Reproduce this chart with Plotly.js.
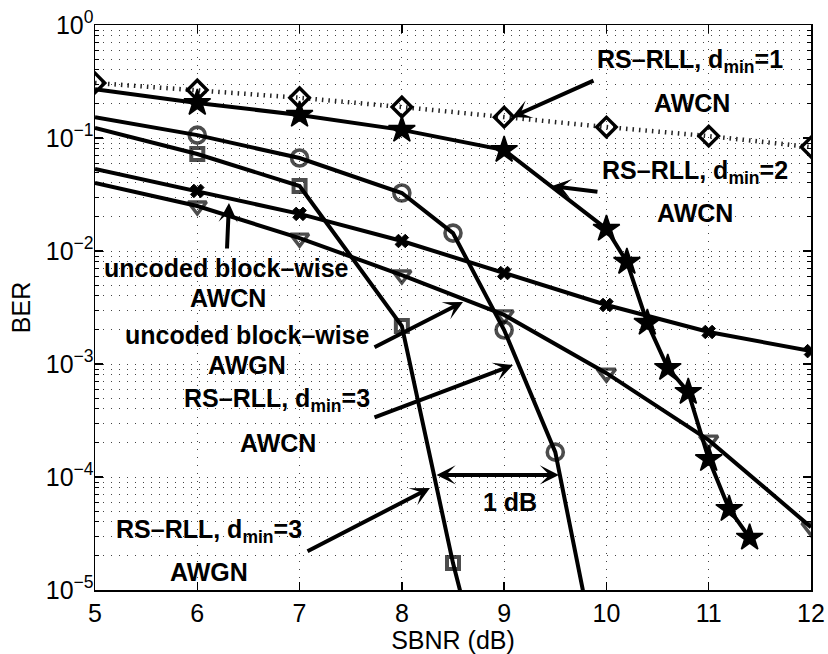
<!DOCTYPE html>
<html>
<head>
<meta charset="utf-8">
<script src="https://cdn.plot.ly/plotly-3.0.1.min.js"></script>
<style>
  html, body { margin: 0; padding: 0; background: #fff; }
  #chart { width: 828px; height: 654px; }
</style>
</head>
<body>
<div id="chart"></div>
<script>
// SBNR (dB) sample points and measured BER for each scheme
const snrD1 = [5, 6, 7, 8, 9, 10, 11, 12];
const berD1Awcn = [0.307, 0.266, 0.227, 0.188, 0.153, 0.125, 0.104, 0.0832];

const snrD2 = [5, 6, 7, 8, 9, 10, 10.2, 10.4, 10.6, 10.8, 11, 11.2, 11.4];
const berD2Awcn = [0.27, 0.204, 0.160, 0.118, 0.0783, 0.0157, 0.0080, 0.00231, 0.000922, 0.000565, 0.000144, 5.2e-5, 2.9e-5];

const snrD3Awcn = [5, 6, 7, 8, 8.5, 9, 9.5, 10];
const berD3Awcn = [0.153, 0.106, 0.0665, 0.0326, 0.0144, 0.0020, 1.66e-4, 9e-7];

const snrD3Awgn = [5, 6, 7, 8, 8.5, 9];
const berD3Awgn = [0.123, 0.0722, 0.0376, 0.00217, 1.73e-5, 3e-7];

const snrUnc = [5, 6, 7, 8, 9, 10, 11, 12];
const berUncAwcn = [0.0532, 0.034, 0.0213, 0.01226, 0.00638, 0.00333, 0.00192, 0.0013];
const berUncAwgn = [0.040, 0.025, 0.0130, 0.00613, 0.00272, 0.00083, 2.12e-4, 3.6e-5];

// Axis ticks
const xTicks = [5, 6, 7, 8, 9, 10, 11, 12];
const yExponents = [-5, -4, -3, -2, -1, 0];
const yTickLabels = ['10<sup>−5</sup>', '10<sup>−4</sup>', '10<sup>−3</sup>', '10<sup>−2</sup>', '10<sup>−1</sup>', '10<sup>0</sup>'];

const FONT = 'Liberation Sans, Arial, Helvetica, sans-serif';
const LW = 4;

// first sample of most curves is drawn without a marker
function sizes(n, s, firstShown) {
  return Array.from({length: n}, (_, i) => (i === 0 && !firstShown) ? 0 : s);
}

const traces = [
  { x: snrD1, y: berD1Awcn, mode: 'lines+markers',
    line: {color: '#222', width: 4.5, dash: '1.5px,5px'},
    marker: {symbol: 'diamond-open', size: 15, color: 'black', line: {width: 3.4, color: 'black'}} },
  { x: snrD2, y: berD2Awcn, mode: 'lines+markers',
    line: {color: 'black', width: LW},
    marker: {symbol: 'star', size: sizes(snrD2.length, 20, false), color: 'black', opacity: 1, line: {width: 1.5, color: 'black'}} },
  { x: snrD3Awcn, y: berD3Awcn, mode: 'lines+markers',
    line: {color: 'black', width: LW},
    marker: {symbol: 'circle-open', size: sizes(snrD3Awcn.length, 16, false), color: 'black', line: {width: 3.6, color: 'black'}} },
  { x: snrD3Awgn, y: berD3Awgn, mode: 'lines+markers',
    line: {color: 'black', width: LW},
    marker: {symbol: 'square-open', size: sizes(snrD3Awgn.length, 12, false), color: 'black', line: {width: 4, color: 'black'}} },
  { x: snrUnc, y: berUncAwcn, mode: 'lines+markers',
    line: {color: 'black', width: LW},
    marker: {symbol: 'x', size: sizes(snrUnc.length, 12, false), color: 'black', opacity: 1, line: {width: 1, color: 'black'}} },
  { x: snrUnc, y: berUncAwgn, mode: 'lines+markers',
    line: {color: 'black', width: LW},
    marker: {symbol: 'triangle-down-open', size: sizes(snrUnc.length, 16, false), color: 'black', line: {width: 3.4, color: 'black'}} }
];

// label text annotations: [x, log10(y), text]
const labels = [
  [10.82, -0.32, 'RS–RLL, d<sub>min</sub>=1'],
  [10.84, -0.69, 'AWCN'],
  [10.87, -1.30, 'RS–RLL, d<sub>min</sub>=2'],
  [10.87, -1.66, 'AWCN'],
  [6.29, -2.15, 'uncoded block–wise'],
  [6.30, -2.42, 'AWCN'],
  [6.49, -2.74, 'uncoded block–wise'],
  [6.49, -3.01, 'AWGN'],
  [6.78, -3.32, 'RS–RLL, d<sub>min</sub>=3'],
  [6.79, -3.70, 'AWCN'],
  [6.11, -4.48, 'RS–RLL, d<sub>min</sub>=3'],
  [6.11, -4.84, 'AWGN'],
  [9.06, -4.22, '1 dB']
];

// pointer arrows: [tailX, tailLogY, tipX, tipLogY, side]
const arrows = [
  [9.888, -0.487, 9.077, -0.814, 'end'],
  [9.927, -1.478, 9.468, -1.425, 'end'],
  [6.290, -1.991, 6.310, -1.575, 'end'],
  [7.718, -2.858, 8.598, -2.451, 'end'],
  [7.718, -3.478, 9.086, -3.009, 'end'],
  [7.063, -4.664, 8.275, -4.097, 'end'],
  [8.324, -3.982, 9.536, -3.982, 'end+start']
];

const annotations = [];
labels.forEach(([x, y, t]) => annotations.push({
  x: x, y: y, xref: 'x', yref: 'y', text: t, showarrow: false,
  xanchor: 'center', yanchor: 'middle',
  font: {family: FONT, size: 25, color: 'black', weight: 'bold'}
}));
arrows.forEach(([ax, ay, x, y, side]) => annotations.push({
  x: x, y: y, ax: ax, ay: ay, xref: 'x', yref: 'y', axref: 'x', ayref: 'y',
  text: '', showarrow: true, arrowhead: 3, arrowside: side,
  arrowsize: 0.8, arrowwidth: 4, arrowcolor: 'black', standoff: 0, startstandoff: 0
}));

const minorVals = [];
for (let e = -5; e < 0; e++) {
  for (let d = 2; d <= 9; d++) minorVals.push(d * Math.pow(10, e));
}

const gridStyle = {gridcolor: '#444', griddash: '1px,7px', gridwidth: 1};

const layout = {
  width: 828, height: 654,
  margin: {l: 95, r: 17, t: 25, b: 64, pad: 0},
  paper_bgcolor: 'white', plot_bgcolor: 'white',
  showlegend: false,
  font: {family: FONT, color: 'black'},
  xaxis: Object.assign({
    range: [5, 12], tickmode: 'array', tickvals: xTicks,
    ticks: 'inside', ticklen: 8, tickwidth: 1.5, tickcolor: 'black',
    showline: true, linecolor: 'black', linewidth: 1.5, mirror: 'ticks',
    showgrid: true, zeroline: false,
    tickfont: {family: FONT, size: 25, color: 'black'},
    title: {text: 'SBNR (dB)', font: {family: FONT, size: 25, color: 'black'}, standoff: 4}
  }, gridStyle),
  yaxis: Object.assign({
    type: 'log', range: [-5, 0], tickmode: 'array',
    tickvals: yExponents.map(e => Math.pow(10, e)), ticktext: yTickLabels,
    ticks: 'inside', ticklen: 8, tickwidth: 1.5, tickcolor: 'black',
    showline: true, linecolor: 'black', linewidth: 1.5, mirror: 'ticks',
    showgrid: true, zeroline: false, ticklabelstandoff: -5,
    tickfont: {family: FONT, size: 25, color: 'black'},
    title: {text: 'BER', font: {family: FONT, size: 25, color: 'black'}, standoff: 8},
    minor: Object.assign({tickmode: 'array', tickvals: minorVals, ticks: 'inside', ticklen: 4,
      tickwidth: 1, tickcolor: 'black', showgrid: true}, gridStyle)
  }, gridStyle),
  annotations: annotations
};

Plotly.newPlot('chart', traces, layout, {staticPlot: true, displayModeBar: false});
</script>
</body>
</html>
